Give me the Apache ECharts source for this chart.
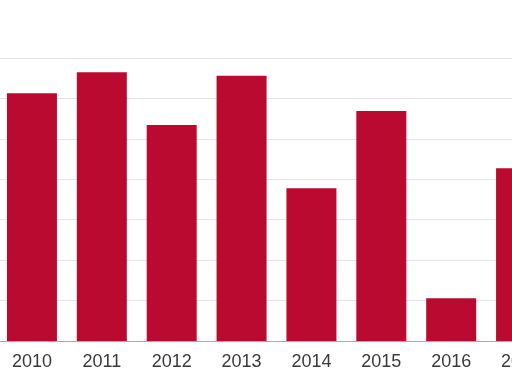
<!DOCTYPE html>
<html><head><meta charset="utf-8">
<script src="https://cdn.jsdelivr.net/npm/echarts@6/dist/echarts.min.js"></script>
<style>html,body{margin:0;padding:0;background:#fff;overflow:hidden;width:512px;height:391px}#c{position:absolute;left:-3px;top:0;width:559px;height:391px}</style>
</head><body><div id="c"></div>
<script>
var categories = ['2010','2011','2012','2013','2014','2015','2016','2017'];
var values = [6.13, 6.65, 5.34, 6.56, 3.78, 5.69, 1.06, 4.27];
var yTicks = [0,1,2,3,4,5,6,7];

var chart = echarts.init(document.getElementById('c'));
chart.setOption({
  animation: false,
  grid: {left: 0, right: 0, top: 58, bottom: 50, containLabel: false},
  xAxis: {
    type: 'category', data: categories,
    axisLine: {lineStyle: {color: '#aaaaaa', width: 1}},
    axisTick: {show: false},
    axisLabel: {color: '#3a3a3a', fontSize: 18, fontFamily: 'Liberation Sans, Arial, sans-serif', margin: 12}
  },
  yAxis: {
    type: 'value', min: yTicks[0], max: yTicks[yTicks.length-1], interval: 1,
    axisLabel: {show: false}, axisLine: {show: false}, axisTick: {show: false},
    splitLine: {lineStyle: {color: '#e3e3e3', width: 1}}
  },
  series: [{
    type: 'bar', data: values, barWidth: 50,
    itemStyle: {color: '#ba0a2f'}
  }]
});
</script></body></html>
